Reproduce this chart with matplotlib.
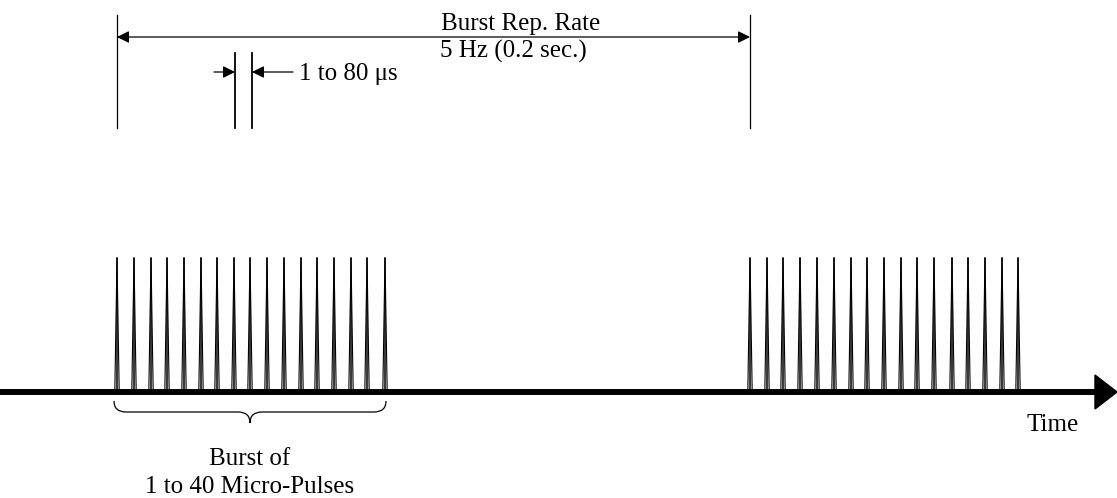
#!/usr/bin/env python3
"""Micro-pulse burst timing diagram."""

import matplotlib

matplotlib.use("Agg")
import matplotlib.pyplot as plt
from matplotlib.patches import Polygon, PathPatch
from matplotlib.path import Path

# pulse positions (pixel-like diagram coordinates)
burst1_pulses = [117, 134, 151, 167, 184, 201, 217, 234, 250, 267, 284, 301, 317, 334, 351, 367, 385]
burst2_pulses = [750, 767, 783, 800, 817, 834, 851, 867, 884, 901, 917, 934, 952, 968, 985, 1002, 1018]
pulse_top = 258
axis_y = 392

rep_rate_lines = [117, 750]
micro_gap_lines = [235, 252]

rep_top = "Burst Rep. Rate"
rep_bottom = "5 Hz (0.2 sec.)"
gap_label = "1 to 80 \u03bcs"
burst_line1 = "Burst of"
burst_line2 = "1 to 40 Micro-Pulses"
time_label = "Time"

plt.rcParams["font.family"] = ["Liberation Serif", "DejaVu Serif"]
FS = 18

fig = plt.figure(figsize=(11.17, 4.98), dpi=100)
ax = fig.add_axes([0, 0, 1, 1])
ax.set_xlim(0, 1117)
ax.set_ylim(498, 0)
ax.axis("off")

# pulses: narrow spikes
for x in burst1_pulses + burst2_pulses:
    ax.add_patch(Polygon([(x - 2.2, axis_y), (x, pulse_top), (x + 2.2, axis_y)],
                         closed=False, fill=False, edgecolor="black", lw=0.8))
    ax.plot([x, x], [pulse_top, axis_y], color="black", lw=1.1)

# time axis
ax.plot([0, 1098], [axis_y, axis_y], color="black", lw=4.3, solid_capstyle="butt")
ax.add_patch(Polygon([(1095, axis_y - 17), (1117, axis_y), (1095, axis_y + 17)],
                     closed=True, facecolor="black", edgecolor="black"))
ax.text(1053, 431, time_label, fontsize=FS, ha="center", va="baseline")

arrow_kw = dict(color="black", lw=0.9, mutation_scale=18, shrinkA=0, shrinkB=0)

# burst repetition dimension
for x in rep_rate_lines:
    ax.plot([x, x], [15, 128], color="black", lw=0.9)
ax.annotate("", xy=(rep_rate_lines[0], 37), xytext=(rep_rate_lines[1], 37),
            arrowprops=dict(arrowstyle="<|-|>", **arrow_kw))
ax.text(441, 30, rep_top, fontsize=FS, ha="left", va="baseline")
ax.text(440, 58, rep_bottom, fontsize=FS, ha="left", va="baseline")

# micro-pulse spacing dimension
for x in micro_gap_lines:
    ax.plot([x, x], [53, 128], color="black", lw=1.3)
ax.annotate("", xy=(micro_gap_lines[0], 72), xytext=(214, 72),
            arrowprops=dict(arrowstyle="-|>", **arrow_kw))
ax.annotate("", xy=(micro_gap_lines[1], 72), xytext=(293, 72),
            arrowprops=dict(arrowstyle="-|>", **arrow_kw))
ax.text(299, 80, gap_label, fontsize=FS, ha="left", va="baseline")

# brace under first burst
x0, x1 = burst1_pulses[0] - 3, burst1_pulses[-1] + 1
xm = (x0 + x1) / 2
yt, ym, yb = 401, 412, 423
verts = [
    (x0, yt),
    (x0, ym), (x0 + 12, ym),
    (xm - 12, ym),
    (xm, ym), (xm, yb),
    (xm, ym), (xm + 12, ym),
    (x1 - 12, ym),
    (x1, ym), (x1, yt),
]
codes = [
    Path.MOVETO,
    Path.CURVE3, Path.CURVE3,
    Path.LINETO,
    Path.CURVE3, Path.CURVE3,
    Path.CURVE3, Path.CURVE3,
    Path.LINETO,
    Path.CURVE3, Path.CURVE3,
]
ax.add_patch(PathPatch(Path(verts, codes), fill=False, edgecolor="black", lw=0.9))
ax.text(xm, 465, burst_line1, fontsize=FS, ha="center", va="baseline")
ax.text(xm, 493, burst_line2, fontsize=FS, ha="center", va="baseline")

fig.savefig("out.png", dpi=100)
